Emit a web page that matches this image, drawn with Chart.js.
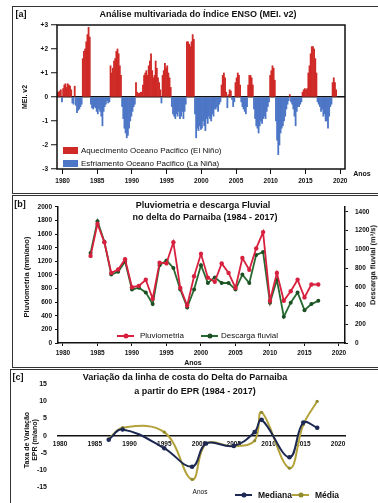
<!DOCTYPE html>
<html>
<head>
<meta charset="utf-8">
<script src="https://cdn.jsdelivr.net/npm/chart.js@4.4.1/dist/chart.umd.min.js"></script>
<style>
  body { margin: 0; background: #fff; }
  #fig { position: relative; width: 378px; height: 503px; overflow: hidden;
         font-family: "Liberation Sans", Arial, sans-serif; color: #111; }
  canvas { position: absolute; left: 0; }
  .box { position: absolute; border: 1px solid #333; }
  .t { position: absolute; white-space: nowrap; line-height: 1; }
  .c { transform: translate(-50%, -50%); }
  .l { transform: translate(0, -50%); }
  .v { transform: translate(-50%, -50%) rotate(-90deg); text-align: center; }
  .b { font-weight: bold; }
  .sw { position: absolute; }
  .ln { position: absolute; height: 2px; transform: translate(0, -50%); }
  .dot { position: absolute; width: 5px; height: 5px; border-radius: 50%; transform: translate(-50%, -50%); }
</style>
</head>
<body>
<div id="fig">
  <div class="box" style="left:12px;top:6px;width:366px;height:186px"></div>
  <div class="box" style="left:12px;top:195px;width:366px;height:171px"></div>
  <div class="box" style="left:10px;top:369px;width:368px;height:140px"></div>

  <canvas id="chartA" width="378" height="195" style="top:0"></canvas>
  <canvas id="chartB" width="378" height="171" style="top:196px"></canvas>
  <canvas id="chartC" width="378" height="134" style="top:369px"></canvas>

  <!-- panel a -->
  <div class="t c b" style="left:21px;top:14px;font-size:9px">[a]</div>
  <div class="t c b" style="left:198px;top:14px;font-size:9px">Análise multivariada do Índice ENSO (MEI. v2)</div>
  <div class="t v b" style="left:24px;top:97px;font-size:7px">MEI. v2</div>
  <div class="t c b" style="left:362px;top:173px;font-size:7px">Anos</div>
  <div class="sw" style="left:63px;top:147px;width:15px;height:7px;background:#cf2a27"></div>
  <div class="t l" style="left:81px;top:151px;font-size:8px">Aquecimento Oceano Pacifico (El Niño)</div>
  <div class="sw" style="left:63px;top:160px;width:15px;height:7px;background:#4d76c6"></div>
  <div class="t l" style="left:81px;top:164px;font-size:8px">Esfriamento Oceano Pacifico (La Niña)</div>

  <!-- panel b -->
  <div class="t c b" style="left:20px;top:204px;font-size:9px">[b]</div>
  <div class="t c b" style="left:203px;top:205px;font-size:9px">Pluviometria e descarga Fluvial</div>
  <div class="t c b" style="left:205px;top:217px;font-size:9px">no delta do Parnaiba (1984 - 2017)</div>
  <div class="t v b" style="left:27px;top:277px;font-size:7.5px">Pluviometria (mm/ano)</div>
  <div class="t v b" style="left:373px;top:265px;font-size:7.5px">Descarga fluvial (m³/s)</div>
  <div class="t c b" style="left:193px;top:362px;font-size:7px">Anos</div>
  <div class="ln" style="left:117px;top:336px;width:17px;background:#d8203e"></div>
  <div class="dot" style="left:125.5px;top:336px;background:#d8203e"></div>
  <div class="t l" style="left:140px;top:336px;font-size:8px">Pluviometria</div>
  <div class="ln" style="left:201px;top:336px;width:17px;background:#256a2f"></div>
  <div class="dot" style="left:209.5px;top:336px;background:#1d4f24"></div>
  <div class="t l" style="left:221px;top:336px;font-size:8px">Descarga fluvial</div>

  <!-- panel c -->
  <div class="t c b" style="left:18px;top:377px;font-size:9px">[c]</div>
  <div class="t c b" style="left:185px;top:377px;font-size:9px">Variação da linha de costa do Delta do Parnaiba</div>
  <div class="t c b" style="left:195px;top:391px;font-size:9px">a partir do EPR (1984 - 2017)</div>
  <div class="t v b" style="left:31px;top:440px;font-size:7px;line-height:8px">Taxa de Variação<br>EPR (m/ano)</div>
  <div class="t c" style="left:200px;top:492px;font-size:6.5px">Anos</div>
  <div class="ln" style="left:235px;top:495px;width:17px;background:#1d2952"></div>
  <div class="dot" style="left:243.5px;top:495px;background:#1d2952"></div>
  <div class="t l b" style="left:258px;top:495px;font-size:8.5px">Mediana</div>
  <div class="ln" style="left:292px;top:495px;width:17px;background:#b3a23a"></div>
  <div class="dot" style="left:300.5px;top:495px;background:#8f8a2c"></div>
  <div class="t l b" style="left:315px;top:495px;font-size:8.5px">Média</div>
</div>

<script>
// ---------- data ----------
// MEI.v2, six bi-monthly values per year
const meiStartYear = 1979;
const meiPerYear = 6;
const meiValues = [
  [0.1, 0.2, 0.2, 0.25, 0.3, -0.2],        // 1979
  [0.35, 0.5, 0.55, 0.4, 0.55, 0.5],       // 1980
  [0.45, 0.3, -0.25, -0.3, 0.45, -0.35],   // 1981
  [-0.65, -0.55, -0.5, -0.4, -0.3, 1.6],   // 1982
  [1.9, 2.0, 2.3, 2.6, 2.9, 2.5],          // 1983
  [-0.3, -0.45, -0.5, -0.4, -0.45, -0.6],  // 1984
  [-0.7, -0.5, -0.6, -0.8, -1.2, -0.6],    // 1985
  [-0.4, -0.3, -0.15, -0.25, -0.2, 1.3],   // 1986
  [1.0, 1.2, 1.5, 1.6, 1.9, 2.0],          // 1987
  [1.8, 1.3, 0.9, -0.4, -0.9, -1.3],       // 1988
  [-1.5, -1.7, -1.6, -1.3, -1.0, -0.8],    // 1989
  [-0.6, -0.4, -0.3, 0.6, 0.2, 0.15],      // 1990
  [0.15, 0.2, 0.2, 0.5, 0.9, 1.0],         // 1991
  [1.1, 0.9, 1.3, 1.5, 1.8, 1.1],          // 1992
  [0.8, 0.9, 1.5, 1.2, 0.8, 0.6],          // 1993
  [0.3, -0.25, 0.9, 1.1, 1.4, 1.2],        // 1994
  [1.3, 1.0, 0.8, 0.4, -0.4, -0.7],        // 1995
  [-0.8, -0.9, -0.7, -0.8, -0.6, -0.9],    // 1996
  [-0.8, -0.6, -0.9, -0.6, -0.3, 2.3],     // 1997
  [2.3, 2.2, 2.1, 2.3, 2.6, 2.4],          // 1998
  [-0.7, -1.7, -1.3, -1.4, -1.2, -1.35],   // 1999
  [-1.3, -1.0, -1.2, -1.4, -0.9, -1.1],    // 2000
  [-0.8, -0.9, -1.0, -0.7, -0.8, -0.5],    // 2001
  [-0.5, -0.4, -0.6, -0.3, -0.2, 0.5],     // 2002
  [0.9, 1.0, 0.8, 0.2, -0.45, 0.1],        // 2003
  [0.3, 0.25, -0.1, -0.4, -0.2, 0.6],      // 2004
  [0.8, 1.0, 0.9, 0.5, -0.2, -0.4],        // 2005
  [-0.5, -0.6, -0.7, -0.4, 0.5, 0.9],      // 2006
  [0.9, 0.8, 0.5, -0.5, -0.9, -1.2],       // 2007
  [-1.3, -1.5, -1.2, -1.0, -1.1, -0.9],    // 2008
  [-0.8, -0.9, -0.6, -0.4, -0.2, 0.9],     // 2009
  [1.1, 1.3, 1.2, 0.7, -1.0, -1.8],        // 2010
  [-2.4, -2.0, -1.5, -1.3, -1.2, -1.0],    // 2011
  [-0.8, -0.5, -0.3, -0.15, 0.1, -0.2],    // 2012
  [-0.3, -0.5, -0.8, -1.2, -0.6, -0.4],    // 2013
  [-0.4, -0.3, -0.2, 0.2, 0.3, 0.35],      // 2014
  [0.3, 0.35, 1.0, 1.3, 1.8, 2.1],         // 2015
  [2.1, 2.0, 1.6, 1.0, -0.2, -0.3],        // 2016
  [-0.4, -0.6, -0.5, -0.8, -0.7, -1.0],    // 2017
  [-1.0, -1.3, -0.8, -0.4, -0.3, 0.6],     // 2018
  [0.8, 0.6, 0.3]                          // 2019
];
const yearTicks = [1980, 1985, 1990, 1995, 2000, 2005, 2010, 2015, 2020];
const meiTicks = [-3, -2, -1, 0, 1, 2, 3];

// rainfall (mm/year) and river discharge (m3/s), 1984 - 2017
const riverYears = [1984, 1985, 1986, 1987, 1988, 1989, 1990, 1991, 1992, 1993, 1994, 1995,
  1996, 1997, 1998, 1999, 2000, 2001, 2002, 2003, 2004, 2005, 2006, 2007, 2008, 2009,
  2010, 2011, 2012, 2013, 2014, 2015, 2016, 2017];
const pluviometria = [1280, 1750, 1480, 1030, 1080, 1230, 820, 840, 930, 650, 1180, 1170,
  1480, 810, 550, 980, 1310, 960, 900, 1170, 1030, 810, 1250, 1075, 1390, 1630,
  620, 1030, 620, 760, 930, 670, 860, 860];
const descarga = [960, 1300, 1080, 730, 760, 870, 570, 590, 540, 415, 830, 880,
  800, 570, 380, 570, 830, 640, 700, 640, 640, 570, 730, 640, 940, 970,
  430, 675, 280, 430, 540, 350, 415, 450];
const pluvioTicks = [0, 200, 400, 600, 800, 1000, 1200, 1400, 1600, 1800, 2000];
const descargaTicks = [0, 200, 400, 600, 800, 1000, 1200, 1400];

// shoreline change rate EPR (m/year)
const eprYears = [1987, 1989, 1995, 1999, 2001, 2005, 2008, 2009, 2013, 2015, 2017];
const mediana = [-1.2, 1.8, -3.7, -9.1, -2.3, -3.0, 1.0, 4.6, -6.3, 3.8, 2.3];
const media = [-1.0, 2.3, 1.0, -12.8, -2.4, -3.1, -1.5, 6.8, -9.5, 3.2, 10.0];
const eprTicks = [-15, -10, -5, 0, 5, 10, 15];

// ---------- style ----------
const RED = '#cf2a27';
const BLUE = '#4d76c6';
const PLUVIO = '#d8203e';
const GREEN = '#256a2f';
const NAVY = '#1d2952';
const OLIVE = '#b3a23a';
const INK = '#111';

Chart.defaults.font.family = '"Liberation Sans", Arial, sans-serif';
Chart.defaults.color = INK;

const tickFont = { size: 6.5, weight: 'bold' };
const setTicks = list => s => { s.ticks = list.map(v => ({ value: v })); };
const common = {
  responsive: false,
  animation: false,
  devicePixelRatio: 1,
  plugins: { legend: { display: false }, tooltip: { enabled: false } }
};

const frame = {
  id: 'frame',
  afterDraw(chart) {
    const { ctx, chartArea: a } = chart;
    ctx.save();
    ctx.strokeStyle = INK;
    ctx.lineWidth = 1.5;
    ctx.strokeRect(a.left, a.top, a.right - a.left, a.bottom - a.top);
    ctx.restore();
  }
};

// ---------- panel a: MEI bars ----------
const meiPoints = meiValues.flat().map((v, i) => ({ x: meiStartYear + (i + 0.5) / meiPerYear, y: v }));

new Chart(document.getElementById('chartA'), {
  type: 'bar',
  data: {
    datasets: [{
      data: meiPoints,
      backgroundColor: c => (c.raw && c.raw.y >= 0 ? RED : BLUE),
      categoryPercentage: 1,
      barPercentage: 1
    }]
  },
  options: {
    ...common,
    layout: { padding: { top: 25, right: 33, left: 0, bottom: 0 } },
    scales: {
      x: {
        type: 'linear', min: 1979.2, max: 2020.7, offset: false,
        afterFit: s => { s.height = 26; },
        afterBuildTicks: setTicks(yearTicks),
        grid: { offset: false, drawOnChartArea: false, tickLength: 5, tickColor: INK },
        border: { display: false },
        ticks: { font: tickFont, padding: 3, maxRotation: 0, autoSkip: false, callback: v => String(v) }
      },
      y: {
        min: -3, max: 3,
        afterFit: s => { s.width = 57; },
        afterBuildTicks: setTicks(meiTicks),
        grid: {
          color: c => (c.tick && c.tick.value === 0 ? INK : 'rgba(0,0,0,0)'),
          lineWidth: 1.5, tickLength: 6, tickColor: INK, tickWidth: 1
        },
        border: { display: false },
        ticks: { font: tickFont, padding: 3, callback: v => (v > 0 ? '+' + v : String(v)) }
      }
    }
  },
  plugins: [frame]
});

// ---------- panel b: rainfall and discharge ----------
new Chart(document.getElementById('chartB'), {
  type: 'line',
  data: {
    datasets: [{
      data: riverYears.map((x, i) => ({ x, y: pluviometria[i] })),
      yAxisID: 'y',
      borderColor: PLUVIO, backgroundColor: PLUVIO,
      borderWidth: 1.8, pointRadius: 2.2, pointBorderWidth: 0, tension: 0
    }, {
      data: riverYears.map((x, i) => ({ x, y: descarga[i] })),
      yAxisID: 'y2',
      borderColor: GREEN, backgroundColor: '#1d4f24',
      borderWidth: 1.8, pointRadius: 2, pointBorderWidth: 0, tension: 0
    }]
  },
  options: {
    ...common,
    layout: { padding: { top: 7, right: 0, left: 0, bottom: 0 } },
    scales: {
      x: {
        type: 'linear', min: 1979.28, max: 2020.87,
        afterFit: s => { s.height = 24; },
        afterBuildTicks: setTicks(yearTicks),
        grid: { drawOnChartArea: false, tickLength: 3, tickColor: INK },
        border: { color: INK, width: 1.5 },
        ticks: { font: tickFont, padding: 3, maxRotation: 0, autoSkip: false, callback: v => String(v) }
      },
      y: {
        position: 'left', min: 0, max: 2000,
        afterFit: s => { s.width = 58; },
        afterBuildTicks: setTicks(pluvioTicks),
        grid: { drawOnChartArea: false, tickLength: 3, tickColor: INK },
        border: { color: INK, width: 1.5 },
        ticks: { font: tickFont, padding: 3, autoSkip: false, callback: v => String(v) }
      },
      y2: {
        position: 'right', min: 0, max: 1452,
        afterFit: s => { s.width = 33; },
        afterBuildTicks: setTicks(descargaTicks),
        grid: { drawOnChartArea: false, tickLength: 3, tickColor: INK },
        border: { color: INK, width: 1.5 },
        ticks: { font: tickFont, padding: 7, autoSkip: false, callback: v => String(v) }
      }
    }
  }
});

// ---------- panel c: shoreline change rate ----------
new Chart(document.getElementById('chartC'), {
  type: 'line',
  data: {
    datasets: [{
      data: eprYears.map((x, i) => ({ x, y: mediana[i] })),
      borderColor: NAVY, backgroundColor: NAVY,
      borderWidth: 2, pointRadius: 2.3, pointBorderWidth: 0, tension: 0.4
    }, {
      data: eprYears.map((x, i) => ({ x, y: media[i] })),
      borderColor: OLIVE, backgroundColor: '#8f8a2c',
      borderWidth: 2, pointRadius: 1.6, pointBorderWidth: 0, tension: 0.4
    }]
  },
  options: {
    ...common,
    layout: { padding: { top: 7, right: 33, left: 0, bottom: 16 } },
    scales: {
      x: {
        type: 'linear', min: 1979.7, max: 2021, position: { y: 0 },
        afterBuildTicks: setTicks(yearTicks),
        grid: { display: false, drawTicks: false },
        border: { display: true, color: INK, width: 1.5 },
        ticks: { font: tickFont, padding: 5, maxRotation: 0, autoSkip: false, callback: v => String(v) }
      },
      y: {
        position: 'left', min: -15, max: 15,
        afterFit: s => { s.width = 58; },
        afterBuildTicks: setTicks(eprTicks),
        grid: { display: false, drawTicks: false },
        border: { display: false },
        ticks: { font: { size: 7, weight: 'bold' }, padding: 11, autoSkip: false, callback: v => String(v) }
      }
    }
  }
});
</script>
</body>
</html>
